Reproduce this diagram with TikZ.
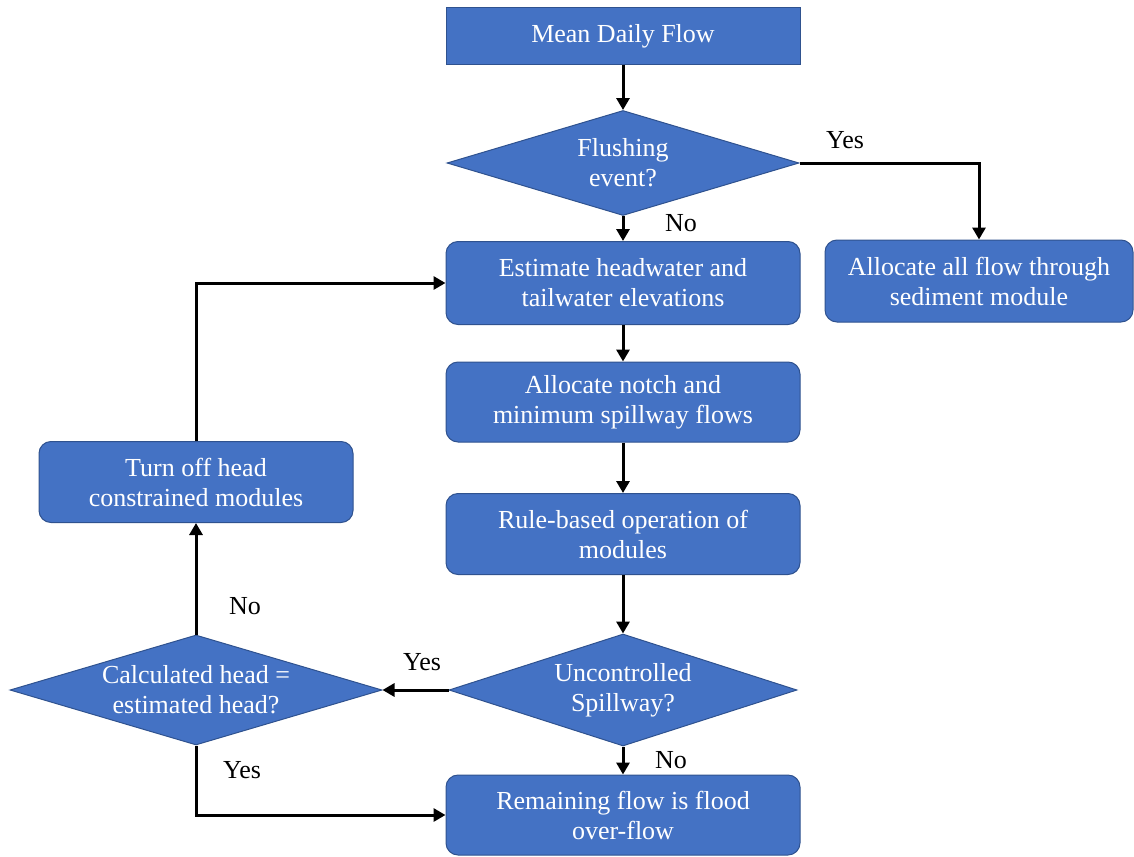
\documentclass[tikz,border=0pt]{standalone}
\usepackage{fontspec}
\setmainfont{Liberation Serif}
\usetikzlibrary{shapes.geometric,arrows.meta}
\definecolor{boxblue}{HTML}{4472C4}
\definecolor{boxedge}{HTML}{2F528F}
\begin{document}
\begin{tikzpicture}[x=1pt,y=-1pt,
  every node/.style={font=\rmfamily\fontsize{26}{30}\selectfont},
  flowbox/.style={draw=boxedge, line width=1pt, fill=boxblue, text=white,
    align=center, inner sep=0pt},
  roundbox/.style={flowbox, rounded corners=12pt},
  decision/.style={diamond, draw=boxedge, line width=1pt, fill=boxblue, inner sep=0pt},
  dtext/.style={text=white, align=center, inner sep=0pt},
  lbl/.style={text=black, inner sep=0pt},
  link/.style={line width=3pt, -{Triangle[length=12pt,width=13pt]}}]
\useasboundingbox (0,0) rectangle (1134,856);

% process boxes
\node[flowbox, minimum width=354, minimum height=57] (mean) at (623,36) {Mean Daily Flow};
\node[roundbox, minimum width=354, minimum height=83] (est) at (623,283) {Estimate headwater and\\tailwater elevations};
\node[roundbox, minimum width=308, minimum height=82] (sed) at (979,281) {Allocate all flow through\\sediment module};
\node[roundbox, minimum width=354, minimum height=80] (notch) at (623,402) {Allocate notch and\\minimum spillway flows};
\node[roundbox, minimum width=354, minimum height=81] (rule) at (623,534) {Rule-based operation of\\modules};
\node[roundbox, minimum width=354, minimum height=80] (rem) at (623,815) {Remaining flow is flood\\over-flow};
\node[roundbox, minimum width=314, minimum height=81] (off) at (196,482) {Turn off head\\constrained modules};

% decisions
\node[decision, minimum width=352, minimum height=105] (flush) at (623,163) {};
\node[dtext] at (flush.center) {Flushing\\event?};
\node[decision, minimum width=348, minimum height=112] (spill) at (623,690) {};
\node[dtext] at (spill.center) {Uncontrolled\\Spillway?};
\node[decision, minimum width=372, minimum height=110] (calc) at (196,690) {};
\node[dtext] at (calc.center) {Calculated head =\\estimated head?};

% connectors
\draw[link] (mean) -- (flush);
\draw[link] (flush) -- (est);
\draw[link] (flush.east) -| (sed.north);
\draw[link] (est) -- (notch);
\draw[link] (notch) -- (rule);
\draw[link] (rule) -- (spill);
\draw[link] (spill) -- (rem);
\draw[link] (spill.west) -- (calc.east);
\draw[link] (calc.north) -- (off.south);
\draw[link] (off.north) |- (est.west);
\draw[link] (calc.south) |- (rem.west);

% branch labels
\node[lbl] (l1) at (845,140) {Yes};
\node[lbl] (l2) at (681,223) {No};
\node[lbl] (l3) at (422,662) {Yes};
\node[lbl] (l4) at (245,606) {No};
\node[lbl] (l5) at (242,770) {Yes};
\node[lbl] (l6) at (671,760) {No};
\end{tikzpicture}
\end{document}
